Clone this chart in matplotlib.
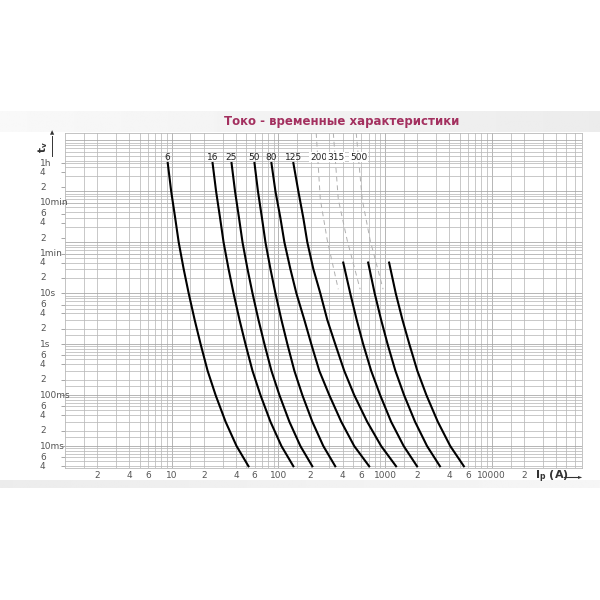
import numpy as np
import matplotlib.pyplot as plt
from matplotlib import transforms

t_full = [3600, 1000, 300, 100, 30, 10, 3, 1, 0.3, 0.1, 0.03, 0.01, 0.004]
# times (s) for the short solid curves of the big fuses
t_short = [40, 10, 3, 1, 0.3, 0.1, 0.03, 0.01, 0.004]
# times (s) for the dashed upper parts of the big fuses
t_dash = [14000, 700, 110, 12]

# prospective current (A) of each rating
I_6 = [9.18, 9.89, 10.78, 11.63, 12.94, 14.42, 16.41, 18.66, 21.70, 25.78,
       31.97, 40.51, 52.44]
I_16 = [24.16, 26.06, 28.40, 30.62, 34.10, 37.97, 43.20, 49.15, 57.15, 67.90,
        84.20, 106.7, 138.1]
I_25 = [36.37, 39.22, 42.74, 46.09, 51.32, 57.15, 65.04, 74.00, 86.01, 102.2,
        126.7, 160.6, 207.9]
I_50 = [59.66, 64.33, 70.12, 75.60, 84.20, 93.76, 106.7, 121.4, 141.1, 167.6,
        207.9, 263.4, 341.0]
I_80 = [86.0, 93.8, 104.4, 113.8, 129.4, 147.3, 175.0, 203.4, 241.6, 299.6,
        388.0, 513.2, 708.8]
I_125 = [138.1, 153.8, 171.2, 186.6, 212.4, 246.9, 287.1, 341.0, 413.8, 513.2,
         678.7, 917.5, 1267]
I_200 = [405.1, 470.9, 541.6, 622.9, 739.9, 898.3, 1138, 1492, 1991]
I_315 = [693.6, 797.8, 917.5, 1055, 1248, 1505, 1907, 2470, 3266]
I_500 = [1090, 1257, 1454, 1687, 2004, 2437, 3115, 4076, 5473]
I_200d = [226, 247, 287, 364]
I_315d = [327, 364, 441, 583]
I_500d = [536, 610, 724, 957]

full_labels = ["6", "16", "25", "50", "80", "125"]
full_curves = [I_6, I_16, I_25, I_50, I_80, I_125]
big_labels = ["200", "315", "500"]
big_curves = [I_200, I_315, I_500]
dash_curves = [I_200d, I_315d, I_500d]

x_ticks = [2, 4, 6, 10, 20, 40, 60, 100, 200, 400, 600, 1000,
           2000, 4000, 6000, 10000, 20000]
x_ticklabels = ["2", "4", "6", "10", "2", "4", "6", "100", "2", "4", "6",
                "1000", "2", "4", "6", "10000", "2"]
y_ticks = [3600, 2400, 1200, 600, 360, 240, 120, 60, 40, 20, 10, 6, 4, 2,
           1, 0.6, 0.4, 0.2, 0.1, 0.06, 0.04, 0.02, 0.01, 0.006, 0.004]
y_ticklabels = ["1h", "4", "2", "10min", "6", "4", "2", "1min", "4", "2",
                "10s", "6", "4", "2", "1s", "6", "4", "2", "100ms", "6",
                "4", "2", "10ms", "6", "4"]

fig = plt.figure(figsize=(6, 6), dpi=100)

# title band and bottom band
band = fig.add_axes([0, 0.78, 1, 0.035])
band.imshow(np.linspace(0.975, 0.925, 256)[None, :], cmap="gray",
            vmin=0, vmax=1, aspect="auto")
band.axis("off")
band2 = fig.add_axes([0, 0.187, 1, 0.013])
band2.imshow(np.linspace(0.925, 0.965, 256)[None, :], cmap="gray",
             vmin=0, vmax=1, aspect="auto")
band2.axis("off")
fig.text(342/600, 1 - 121/600, "Токо - временные характеристики",
         color="#a3305f", fontsize=8.5, fontweight="bold",
         ha="center", va="center")

ax = fig.add_axes([65/600, 0.22, 517/600, 335/600])
ax.set_xscale("log")
ax.set_yscale("log")
ax.set_xlim(1, 70000)
ax.set_ylim(0.0037, 14000)

# grid
gc = "#b9b9b9"
dc = "#a2a2a2"
for k in range(0, 5):
    for m in [1, 1.5, 2, 3, 4, 5, 6, 7, 8, 9]:
        v = m * 10**k
        if 1 < v <= 70000:
            ax.axvline(v, color=dc if m == 1 else gc, lw=0.55, zorder=1)
for k in range(-3, 5):
    for m in [1, 2, 3, 4, 5, 6, 7, 8, 9]:
        v = m * 10.0**k
        if 0.0037 < v < 14000:
            ax.axhline(v, color=dc if m == 1 else gc, lw=0.55, zorder=1)
for v in [60, 600, 3600, 1.5, 0.15, 0.015]:
    ax.axhline(v, color=gc, lw=0.55, zorder=1)

for s in ax.spines.values():
    s.set_color(gc)
    s.set_linewidth(0.6)

# curves
for lab, cur in zip(full_labels, full_curves):
    ax.plot(cur, t_full, color="black", lw=1.5, zorder=3)
    ax.text(cur[0], 4700, lab, fontsize=6.5, color="#222222",
            ha="center", va="center", zorder=4)
for lab, cur, dcur in zip(big_labels, big_curves, dash_curves):
    ax.plot(cur, t_short, color="black", lw=1.5, zorder=3)
    ax.plot(dcur, t_dash, color="#b0b0b0", lw=0.7, ls=(0, (5, 4)), zorder=2)
    ax.text(dcur[0] * 1.05, 4700, lab, fontsize=6.5, color="#222222",
            ha="center", va="center", zorder=4,
            bbox=dict(fc="white", ec="none", pad=0.5))

ax.set_xticks(x_ticks, x_ticklabels)
ax.minorticks_off()
ax.tick_params(axis="x", length=0, pad=2, labelsize=6.5, colors="#555555")
ax.set_yticks(y_ticks, [""] * len(y_ticks))
ax.tick_params(axis="y", length=3, width=0.6, color="#999999")

tr = transforms.blended_transform_factory(fig.transFigure, ax.transData)
for v, lab in zip(y_ticks, y_ticklabels):
    fig.text(40/600, v, lab, transform=tr, fontsize=6.5, color="#555555",
             ha="left", va="center")

# axis names with arrows
fig.text(43/600, 1 - 147/600, r"t$_\mathregular{v}$", rotation=90,
         fontsize=7.5, fontweight="bold", color="#333333",
         ha="center", va="center")
fig.add_artist(plt.Line2D([52/600, 52/600], [1 - 156/600, 1 - 136/600],
                          color="#333333", lw=0.7))
fig.text(52/600, 1 - 133/600, "▲", fontsize=4, color="#333333",
         ha="center", va="center")
fig.text(535/600, 1 - 477/600, r"I$_\mathregular{p}$ (A)", fontsize=8,
         fontweight="bold", color="#333333", ha="left", va="center")
fig.add_artist(plt.Line2D([564/600, 578/600], [1 - 477/600, 1 - 477/600],
                          color="#333333", lw=0.8))
fig.text(580/600, 1 - 477/600, "►", fontsize=4, color="#333333",
         ha="center", va="center")

fig.savefig("out.png", dpi=100, facecolor="white")
